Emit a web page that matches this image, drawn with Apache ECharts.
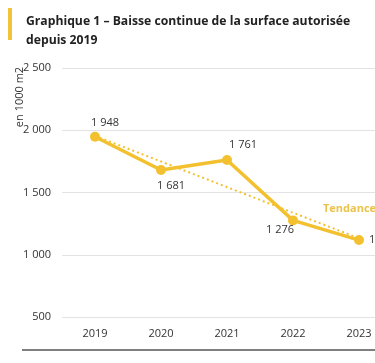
<!DOCTYPE html>
<html><head><meta charset="utf-8">
<script src="https://cdn.jsdelivr.net/npm/echarts@6/dist/echarts.min.js"></script>
<style>html,body{margin:0;padding:0;background:#fff}#c{width:375px;height:363px}</style>
</head><body><div id="c"></div>
<script>
const years = ['2019','2020','2021','2022','2023'];
const values = [1948, 1681, 1761, 1276, 1118];
const trend = [1955, null, null, null, 1132];
const yTicks = [500, 1000, 1500, 2000, 2500];

const fmt = v => String(v).replace(/\B(?=(\d{3})+(?!\d))/g, ' ');
const labelPos = [
  {position:'top', offset:[10,2]},
  {position:'bottom', offset:[10,0]},
  {position:'top', offset:[16,0]},
  {position:'bottom', offset:[-13,-6]},
  {position:'right', offset:[0,0]}
];
const yellow = '#F3C130';
const chart = echarts.init(document.getElementById('c'), null, {renderer:'canvas'});
chart.setOption({
  animation:false,
  textStyle:{fontFamily:'Open Sans'},
  title:{
    text:'Graphique 1 – Baisse continue de la surface autorisée\ndepuis 2019',
    left:21, top:7,
    textStyle:{fontFamily:'Open Sans', fontSize:12.2, fontWeight:'bold', color:'#222', lineHeight:19}
  },
  grid:{left:62, width:330, top:68, bottom:46, containLabel:false, outerBoundsMode:'none'},
  xAxis:{
    type:'category', data:years, boundaryGap:true,
    axisLine:{show:false}, axisTick:{show:false},
    axisLabel:{color:'#333', fontSize:11, margin:11}
  },
  yAxis:{
    type:'value', min:yTicks[0], max:yTicks[yTicks.length-1], interval:500,
    axisLine:{show:false}, axisTick:{show:false},
    axisLabel:{color:'#333', fontSize:11, margin:11, formatter:v=>fmt(v)},
    splitLine:{lineStyle:{color:'#e3e3e3', width:1}}
  },
  series:[
    {
      type:'line', data:trend, connectNulls:true, symbol:'none', z:1,
      lineStyle:{color:yellow, width:2, type:[2,3]}
    },
    {
      type:'line', data:values.map((v,i)=>({value:v, label:labelPos[i]})),
      symbol:'circle', symbolSize:10, z:3,
      lineStyle:{color:yellow, width:3.5},
      itemStyle:{color:yellow},
      label:{show:true, color:'#333', fontSize:11, formatter:p=>fmt(p.value)}
    }
  ],
  graphic:[
    {type:'rect', shape:{x:8, y:8, width:4, height:32}, style:{fill:'#F3C33E'}},
    {type:'text', x:20, y:97, rotation:Math.PI/2, style:{text:'en 1000 m2', fill:'#333', fontSize:11, fontFamily:'Open Sans', align:'center', verticalAlign:'middle'}},
    {type:'text', x:323, y:209, style:{text:'Tendance', fill:'#EBC24A', fontSize:11, fontWeight:'bold', fontFamily:'Open Sans', verticalAlign:'middle'}},
    {type:'line', shape:{x1:22, y1:350, x2:375, y2:350}, style:{stroke:'#555', lineWidth:1.5}}
  ]
});
</script></body></html>
